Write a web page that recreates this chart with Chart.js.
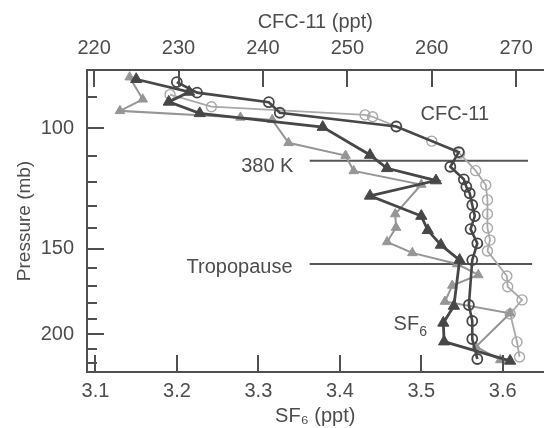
<!DOCTYPE html>
<html>
<head>
<meta charset="utf-8">
<script src="https://cdn.jsdelivr.net/npm/chart.js@4.4.0/dist/chart.umd.min.js"></script>
<style>
  html, body { margin: 0; padding: 0; background: #fff; }
  #wrap { width: 551px; height: 428px; }
</style>
</head>
<body>
<div id="wrap"><canvas id="profileChart" width="551" height="428"></canvas></div>
<script>
// Axis ticks
const sf6Ticks = [3.1, 3.2, 3.3, 3.4, 3.5, 3.6];
const cfcTicks = [220, 230, 240, 250, 260, 270];
const pressureTicks = [100, 150, 200];
const pressureMinorTicks = [90, 110, 120, 130, 140, 160, 170, 180, 190, 210, 220];

// CFC-11 (ppt), dark profile
const cfcDarkValues = [229.8, 232.2, 240.7, 242.0, 255.8, 263.2, 262.2, 263.8, 264.1, 264.5, 264.8, 265.1, 264.6, 265.4, 264.8, 264.4, 264.8, 264.8, 265.4];
const cfcDarkPressure = [85.7, 88.8, 91.7, 95.0, 99.5, 108.4, 113.9, 118.8, 121.8, 124.5, 129.5, 134.4, 140.4, 147.3, 155.8, 181.2, 191.2, 203.1, 217.2];

// CFC-11 (ppt), light profile
const cfcLightValues = [229.0, 233.9, 252.1, 253.0, 260.0, 263.3, 265.2, 266.4, 266.6, 266.6, 266.6, 266.9, 266.6, 268.9, 269.0, 270.7, 269.3, 270.1, 270.4];
const cfcLightPressure = [89.4, 93.1, 95.7, 96.3, 104.5, 108.9, 115.4, 121.1, 127.3, 133.5, 139.9, 145.7, 151.1, 164.4, 170.4, 178.1, 186.7, 205.1, 215.7];

// SF6 (ppt), dark profile
const sf6DarkValues = [3.150, 3.215, 3.190, 3.228, 3.379, 3.437, 3.458, 3.518, 3.437, 3.500, 3.508, 3.524, 3.547, 3.540, 3.527, 3.528, 3.609];
const sf6DarkPressure = [84.9, 88.6, 91.6, 95.2, 99.7, 109.5, 114.5, 119.3, 125.6, 134.4, 141.0, 148.1, 155.8, 181.8, 192.4, 204.9, 218.6];

// SF6 (ppt), light profile
const sf6LightValues = [3.142, 3.158, 3.130, 3.278, 3.317, 3.337, 3.407, 3.417, 3.500, 3.468, 3.469, 3.458, 3.489, 3.544, 3.570, 3.538, 3.529, 3.609, 3.567, 3.597];
const sf6LightPressure = [84.3, 90.8, 94.4, 96.5, 97.3, 105.1, 109.7, 115.5, 120.9, 133.5, 139.7, 146.6, 152.1, 157.9, 163.8, 169.7, 179.1, 186.3, 208.4, 217.9];

// Reference levels (mb) and their SF6 extent
const levelPressure = [111.6, 157.9];
const levelStart = [3.363, 3.363];
const levelEnd = [3.631, 3.636];

const dark = '#474747';
const light = '#969696';
const pale = '#a9a9a9';
const textColor = '#4d4d4d';
const fontFamily = '"Liberation Sans", Arial, Helvetica, sans-serif';

function toPoints(xs, ys) {
    return xs.map((v, i) => ({ x: v, y: ys[i] }));
}

// in-plot labels, placed in SF6 / pressure units
const notes = [
    { text: '380 K', x: 3.343, y: 113.8, align: 'right' },
    { text: 'Tropopause', x: 3.342, y: 159.6, align: 'right' },
    { text: 'CFC-11', x: 3.499, y: 95.6, align: 'left' },
    { text: 'SF', sub: '6', x: 3.466, y: 193.7, align: 'left' }
];

// ticks drawn inside the frame, plus the text labels
const innerTicks = {
    id: 'innerTicks',
    afterDatasetsDraw(chart) {
        const ctx = chart.ctx;
        const { x, x2, y } = chart.scales;
        const area = chart.chartArea;
        ctx.save();
        ctx.strokeStyle = '#505050';
        ctx.lineWidth = 2;
        ctx.beginPath();
        sf6Ticks.forEach(v => {
            const px = Math.round(x.getPixelForValue(v));
            ctx.moveTo(px, area.bottom);
            ctx.lineTo(px, area.bottom - 17);
        });
        cfcTicks.forEach(v => {
            const px = Math.round(x2.getPixelForValue(v));
            ctx.moveTo(px, area.top);
            ctx.lineTo(px, area.top + 17);
        });
        pressureTicks.forEach(v => {
            const py = Math.round(y.getPixelForValue(v));
            ctx.moveTo(area.left, py);
            ctx.lineTo(area.left + 17, py);
        });
        pressureMinorTicks.forEach(v => {
            const py = Math.round(y.getPixelForValue(v));
            ctx.moveTo(area.left, py);
            ctx.lineTo(area.left + 10, py);
        });
        ctx.stroke();

        ctx.fillStyle = textColor;
        ctx.textBaseline = 'middle';
        notes.forEach(n => {
            const px = x.getPixelForValue(n.x);
            const py = y.getPixelForValue(n.y);
            ctx.font = '20px ' + fontFamily;
            ctx.textAlign = n.align;
            ctx.fillText(n.text, px, py);
            if (n.sub) {
                const w = ctx.measureText(n.text).width;
                ctx.font = '14px ' + fontFamily;
                ctx.textAlign = 'left';
                ctx.fillText(n.sub, px + w, py + 7);
            }
        });
        ctx.restore();
    }
};

const ctx = document.getElementById('profileChart').getContext('2d');
const profileChart = new Chart(ctx, {
    type: 'line',
    data: {
        datasets: [{
            label: 'SF6 dark',
            data: toPoints(sf6DarkValues, sf6DarkPressure),
            xAxisID: 'x',
            borderColor: dark,
            borderWidth: 2.8,
            pointStyle: 'triangle',
            pointRadius: 6.5,
            pointBackgroundColor: dark,
            pointBorderColor: dark,
            pointBorderWidth: 1
        }, {
            label: 'CFC-11 dark',
            data: toPoints(cfcDarkValues, cfcDarkPressure),
            xAxisID: 'x2',
            borderColor: dark,
            borderWidth: 2.6,
            pointStyle: 'circle',
            pointRadius: 5,
            pointBackgroundColor: 'rgba(0,0,0,0)',
            pointBorderColor: dark,
            pointBorderWidth: 1.8
        }, {
            label: 'SF6 light',
            data: toPoints(sf6LightValues, sf6LightPressure),
            xAxisID: 'x',
            borderColor: light,
            borderWidth: 2,
            pointStyle: 'triangle',
            pointRadius: 5.5,
            pointBackgroundColor: light,
            pointBorderColor: light,
            pointBorderWidth: 1
        }, {
            label: 'CFC-11 light',
            data: toPoints(cfcLightValues, cfcLightPressure),
            xAxisID: 'x2',
            borderColor: pale,
            borderWidth: 1.8,
            pointStyle: 'circle',
            pointRadius: 5,
            pointBackgroundColor: 'rgba(0,0,0,0)',
            pointBorderColor: pale,
            pointBorderWidth: 1.4
        }, {
            label: '380 K',
            data: [{ x: levelStart[0], y: levelPressure[0] }, { x: levelEnd[0], y: levelPressure[0] }],
            xAxisID: 'x',
            borderColor: '#555',
            borderWidth: 2,
            pointRadius: 0
        }, {
            label: 'Tropopause',
            data: [{ x: levelStart[1], y: levelPressure[1] }, { x: levelEnd[1], y: levelPressure[1] }],
            xAxisID: 'x',
            borderColor: '#555',
            borderWidth: 2,
            pointRadius: 0
        }]
    },
    options: {
        responsive: false,
        animation: false,
        layout: { padding: 0 },
        plugins: {
            legend: { display: false },
            tooltip: { enabled: false }
        },
        scales: {
            x: {
                type: 'linear',
                position: 'bottom',
                min: 3.0896,
                max: 3.650,
                afterBuildTicks: s => { s.ticks = sf6Ticks.map(v => ({ value: v })); },
                afterFit: s => { s.height = 56; },
                grid: { display: false, drawTicks: false },
                border: { display: true, color: '#505050', width: 2 },
                ticks: {
                    padding: 7,
                    color: textColor,
                    font: { family: fontFamily, size: 20 },
                    callback: v => v.toFixed(1)
                },
                title: {
                    display: true,
                    text: 'SF₆ (ppt)',
                    color: textColor,
                    font: { family: fontFamily, size: 20 },
                    padding: { top: 0, bottom: 0 }
                }
            },
            x2: {
                type: 'linear',
                position: 'top',
                min: 219.16,
                max: 273.24,
                afterBuildTicks: s => { s.ticks = cfcTicks.map(v => ({ value: v })); },
                afterFit: s => { s.height = 70; },
                grid: { display: false, drawTicks: false },
                border: { display: true, color: '#505050', width: 2 },
                ticks: {
                    padding: 10,
                    color: textColor,
                    font: { family: fontFamily, size: 20 },
                    callback: v => String(v)
                },
                title: {
                    display: true,
                    text: 'CFC-11 (ppt)',
                    color: textColor,
                    font: { family: fontFamily, size: 20 },
                    padding: { top: 10, bottom: 0 }
                }
            },
            y: {
                type: 'logarithmic',
                position: 'left',
                reverse: true,
                min: 82.3,
                max: 226.9,
                afterBuildTicks: s => { s.ticks = pressureTicks.map(v => ({ value: v })); },
                afterFit: s => { s.width = 87; },
                grid: { display: false, drawTicks: false },
                border: { display: true, color: '#505050', width: 2 },
                ticks: {
                    padding: 13,
                    color: textColor,
                    font: { family: fontFamily, size: 20 },
                    callback: v => String(v)
                },
                title: {
                    display: true,
                    text: 'Pressure (mb)',
                    color: textColor,
                    font: { family: fontFamily, size: 19 },
                    padding: { top: 13, bottom: 0 }
                }
            }
        }
    },
    plugins: [innerTicks]
});
</script>
</body>
</html>
